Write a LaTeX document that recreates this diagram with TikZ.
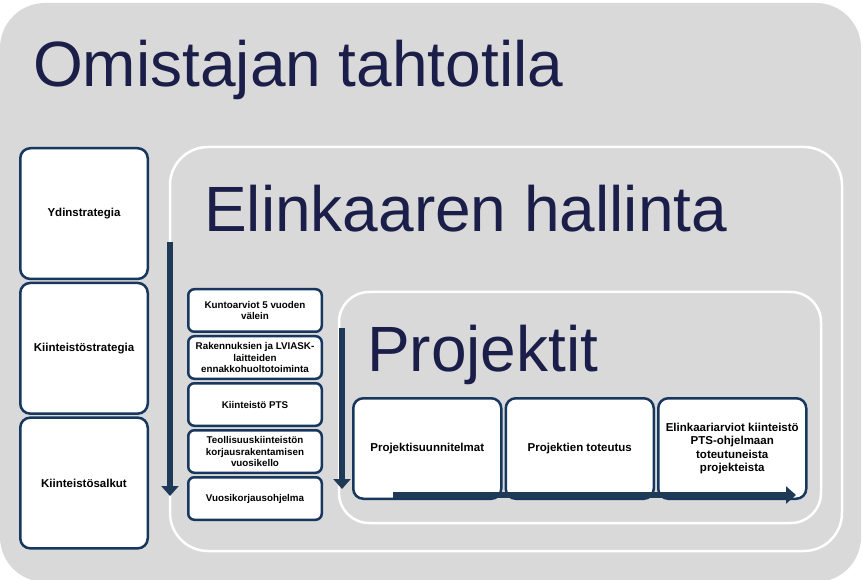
\documentclass[tikz,border=0pt]{standalone}
\usepackage{fontspec}
\setmainfont{Liberation Sans}
\usetikzlibrary{arrows.meta,positioning}
\definecolor{bggray}{HTML}{D9D9D9}
\definecolor{titlecol}{HTML}{1B1E48}
\definecolor{boxline}{HTML}{17375E}
\definecolor{arrowcol}{HTML}{1F3A56}

\begin{document}
\begin{tikzpicture}[x=1pt,y=-1pt,>=Stealth,
  zone/.style={draw=white,line width=2.5pt,fill=bggray},
  title/.style={font=\fontsize{64}{70}\selectfont,text=titlecol,anchor=base west,inner sep=0pt},
  bigbox/.style={draw=boxline,line width=2.5pt,fill=white,rounded corners=10pt,align=center,
    minimum width=127.5pt,minimum height=130.7pt,inner sep=3pt,font=\bfseries\fontsize{11.5}{13.5}\selectfont},
  smallbox/.style={draw=boxline,line width=2.5pt,fill=white,rounded corners=6pt,align=center,
    minimum width=133.5pt,minimum height=42.5pt,inner sep=2pt,font=\bfseries\fontsize{9.8}{11.5}\selectfont},
  rowbox/.style={draw=boxline,line width=2.5pt,fill=white,rounded corners=10pt,align=center,
    minimum width=148pt,minimum height=100.5pt,inner sep=3pt,font=\bfseries\fontsize{11.5}{13.5}\selectfont},
  flow/.style={draw=arrowcol,line width=6pt,-{Triangle[width=17pt,length=10pt]}}]
  \useasboundingbox (0,0) rectangle (863,580);
  % nested areas
  \fill[bggray,rounded corners=45pt] (0,3) rectangle (861,582);
  \draw[zone,rounded corners=38pt] (170,147) rectangle (842,551);
  \draw[zone,rounded corners=30pt] (339,292) rectangle (821,523);
  \node[title] (owner) at (33,87) {Omistajan tahtotila};
  \node[title] (life) at (204,232) {Elinkaaren hallinta};
  \node[title] (proj) at (367,371) {Projektit};
  % strategy column
  \node[bigbox,anchor=north west] (core) at (19,147) {Ydinstrategia};
  \node[bigbox,below=1.5pt of core] (estate) {Kiinteistöstrategia};
  \node[bigbox,below=1.5pt of estate] (port) {Kiinteistösalkut};
  % maintenance column
  \node[smallbox,anchor=north west] (cond) at (187,288) {Kuntoarviot 5 vuoden\\välein};
  \node[smallbox,below=2pt of cond] (prev) {Rakennuksien ja LVIASK-\\laitteiden\\ennakkohuoltotoiminta};
  \node[smallbox,below=2pt of prev] (pts) {Kiinteistö PTS};
  \node[smallbox,below=2pt of pts] (clock) {Teollisuuskiinteistön\\korjausrakentamisen\\vuosikello};
  \node[smallbox,below=2pt of clock] (annual) {Vuosikorjausohjelma};
  % project row
  \node[rowbox,anchor=north west] (plan) at (352,397) {Projektisuunnitelmat};
  \node[rowbox,right=2pt of plan] (build) {Projektien toteutus};
  \node[rowbox,right=2pt of build] (eval) {Elinkaariarviot kiinteistö\\PTS-ohjelmaan\\toteutuneista\\projekteista};
  % flow arrows
  \coordinate (a1s) at (170,242); \coordinate (a1e) at (170,496);
  \coordinate (a2s) at (342,328); \coordinate (a2e) at (342,489);
  \coordinate (a3s) at (393,495); \coordinate (a3e) at (796,495);
  \draw[flow] (a1s)--(a1e);
  \draw[flow] (a2s)--(a2e);
  \draw[flow] (a3s)--(a3e);
\end{tikzpicture}
\end{document}
